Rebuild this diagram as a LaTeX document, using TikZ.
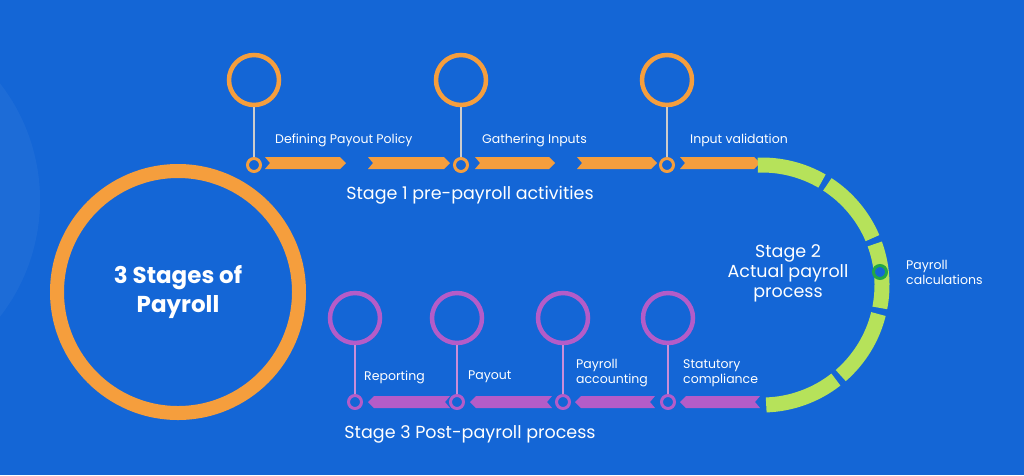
\documentclass[tikz,border=0pt]{standalone}
\usepackage{fontspec}
\setmainfont{Poppins}
\begin{document}
\begin{tikzpicture}[x=1pt,y=-1pt,
  lbl/.style={text=white,font=\fontsize{12.5}{15}\selectfont,align=left,inner sep=0},
  stg/.style={text=white,font=\fontsize{17.5}{20}\selectfont,align=center,inner sep=0}]
\definecolor{bg}{HTML}{1466D6}
\definecolor{org}{HTML}{F59E3D}
\definecolor{pur}{HTML}{B45CC8}
\definecolor{grn}{HTML}{B6E25A}
\definecolor{dgrn}{HTML}{22A845}
\fill[bg] (0,0) rectangle (1024,475);
\useasboundingbox (0,0) rectangle (1024,475);
\fill[white,opacity=0.04] (-150,200) circle (190);
% big circle
\node[circle,draw=org,line width=14pt,minimum size=242pt,inner sep=0] (big) at (178,292) {};
\node[text=white,font=\bfseries\fontsize{23}{29}\selectfont,align=center] (title) at (178,292) {3 Stages of\\Payroll};
% orange arrow segments
\foreach \a/\b in {265/346,368/450,475/555,577/657,680/760}{
  \fill[org] (\a,157) -- (\b-6,157) -- (\b,163) -- (\b-6,169) -- (\a,169) -- (\a+5,163) -- cycle;}
% orange pins
\foreach \x/\n in {254/p1,461/p2,667/p3}{
  \node[circle,draw=org,line width=4.5pt,minimum size=50pt,inner sep=0] (\n) at (\x,80) {};
  \node[circle,draw=org,line width=3pt,minimum size=13pt,inner sep=0,fill=bg] (\n s) at (\x,165) {};
  \draw[gray!40,line width=2pt] (\n.south) -- (\n s.north);}
\node[lbl,anchor=west] (l1) at (275,140) {Defining Payout Policy};
\node[lbl,anchor=west] (l2) at (482,140) {Gathering Inputs};
\node[lbl,anchor=west] (l3) at (690,140) {Input validation};
\node[stg] (s1) at (470,195) {Stage 1 pre-payroll activities};
% green arc
\foreach \s/\e in {88/52,49/14,11/-20,-23/-57,-60/-92}{
  \draw[grn,line width=15pt] (762,285) ++(\s:120) arc (\s:\e:120);}
\node[circle,draw=dgrn,line width=3pt,minimum size=13pt,inner sep=0,fill=bg] (pc) at (880,272) {};
\node[lbl,anchor=west] (pcl) at (906,272) {Payroll\\calculations};
\node[stg] (s2) at (788,273) {Stage 2\\Actual payroll\\process};
% purple arrow segments (pointing left)
\foreach \a/\b in {368/450,470/552,575/655,680/760}{
  \fill[pur] (\b,396) -- (\a+6,396) -- (\a,402) -- (\a+6,408) -- (\b,408) -- (\b-5,402) -- cycle;}
\foreach \x/\n in {355/q1,457/q2,563/q3,668/q4}{
  \node[circle,draw=pur,line width=4.5pt,minimum size=50pt,inner sep=0] (\n) at (\x,318) {};
  \node[circle,draw=pur,line width=3pt,minimum size=13pt,inner sep=0,fill=bg] (\n s) at (\x,402) {};
  \draw[pur!70!white,line width=2pt] (\n.south) -- (\n s.north);}
\node[lbl,anchor=west] (m1) at (364,377) {Reporting};
\node[lbl,anchor=west] (m2) at (468,377) {Payout};
\node[lbl,anchor=west] (m3) at (576,373) {Payroll\\accounting};
\node[lbl,anchor=west] (m4) at (683,373) {Statutory\\compliance};
\node[stg] (s3) at (470,434) {Stage 3 Post-payroll process};
\end{tikzpicture}
\end{document}
